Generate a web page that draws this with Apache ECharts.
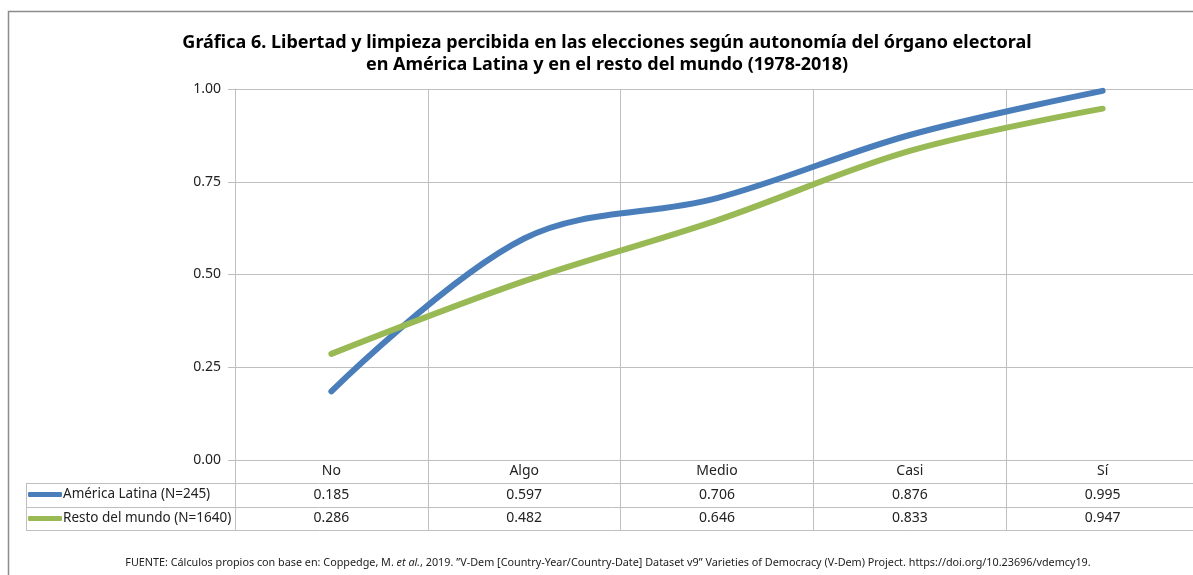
<!DOCTYPE html>
<html>
<head>
<meta charset="utf-8">
<script src="https://cdn.jsdelivr.net/npm/echarts@6/dist/echarts.min.js"></script>
<style>
  html, body { margin: 0; padding: 0; background: #fff; overflow: hidden; }
  #chart { width: 1199px; height: 575px; }
</style>
</head>
<body>
<div id="chart"></div>
<script>
// datos
var categorias = ['No', 'Algo', 'Medio', 'Casi', 'Sí'];
var americaLatina = [0.185, 0.597, 0.706, 0.876, 0.995];
var restoMundo = [0.286, 0.482, 0.646, 0.833, 0.947];
var nombreAL = 'América Latina (N=245)';
var nombreRM = 'Resto del mundo (N=1640)';

var fuente = 'Noto Sans';
var gris = '#bfbfbf';
var texto = '#222';

// el área de trazado sigue unos px más allá del borde derecho de la ventana
var chart = echarts.init(document.getElementById('chart'));

// ejes extra que hacen de filas de la tabla de datos
function filaTabla(valores, offset) {
  return {
    type: 'category',
    gridIndex: 0,
    position: 'bottom',
    offset: offset,
    data: valores.map(function (v) { return v.toFixed(3); }),
    axisLine: { show: false },
    axisTick: { show: false },
    splitLine: { show: false },
    axisLabel: { fontFamily: fuente, fontSize: 14, color: texto, margin: 4 }
  };
}

var option = {
  animation: false,
  backgroundColor: '#fff',
  title: {
    text: 'Gráfica 6. Libertad y limpieza percibida en las elecciones según autonomía del órgano electoral\nen América Latina y en el resto del mundo (1978-2018)',
    left: 602,
    top: 27,
    textAlign: 'center',
    textStyle: { fontFamily: fuente, fontSize: 18, fontWeight: 'bold', color: '#000', lineHeight: 22 }
  },
  legend: {
    orient: 'vertical',
    left: 28,
    top: 485,
    padding: 0,
    itemGap: 5,
    itemWidth: 34,
    itemHeight: 5,
    icon: 'roundRect',
    selectedMode: false,
    data: [nombreAL, nombreRM],
    textStyle: { fontFamily: fuente, fontSize: 13.5, color: texto, lineHeight: 19, padding: [0, 0, 0, -4] }
  },
  grid: { left: 235, right: 0, top: 89, bottom: 115 },
  xAxis: [
    {
      type: 'category',
      data: categorias,
      boundaryGap: true,
      axisLine: { show: true, lineStyle: { color: gris, width: 1 } },
      axisTick: { show: true, interval: 0, length: 70, lineStyle: { color: gris } },
      splitLine: { show: true, interval: 0, lineStyle: { color: gris } },
      axisLabel: { fontFamily: fuente, fontSize: 14, color: texto, margin: 4 }
    },
    filaTabla(americaLatina, 24),
    filaTabla(restoMundo, 47)
  ],
  yAxis: {
    type: 'value',
    min: 0,
    max: 1,
    interval: 0.25,
    axisLine: { show: true, lineStyle: { color: gris } },
    axisTick: { show: true, length: 7, lineStyle: { color: gris } },
    splitLine: { show: true, lineStyle: { color: gris } },
    axisLabel: {
      fontFamily: fuente, fontSize: 14, color: texto, margin: 14,
      formatter: function (v) { return v.toFixed(2); }
    }
  },
  series: [
    {
      name: nombreAL,
      type: 'line',
      data: americaLatina,
      smooth: 0.35,
      symbol: 'none',
      color: '#4a7ebb',
      lineStyle: { width: 6, cap: 'round', color: '#4a7ebb' }
    },
    {
      name: nombreRM,
      type: 'line',
      data: restoMundo,
      smooth: 0.35,
      symbol: 'none',
      color: '#98b954',
      lineStyle: { width: 6, cap: 'round', color: '#98b954' }
    }
  ],
  graphic: [
    // marco exterior
    { type: 'rect', shape: { x: 8.5, y: 11.5, width: 1200, height: 600 },
      style: { fill: 'none', stroke: '#8c8c8c', lineWidth: 1.5 }, silent: true },
    // líneas de la tabla
    { type: 'line', shape: { x1: 26, y1: 483.5, x2: 1199, y2: 483.5 }, style: { stroke: gris, lineWidth: 1 } },
    { type: 'line', shape: { x1: 26, y1: 507.5, x2: 1199, y2: 507.5 }, style: { stroke: gris, lineWidth: 1 } },
    { type: 'line', shape: { x1: 26, y1: 530.5, x2: 1199, y2: 530.5 }, style: { stroke: gris, lineWidth: 1 } },
    { type: 'line', shape: { x1: 26.5, y1: 483, x2: 26.5, y2: 531 }, style: { stroke: gris, lineWidth: 1 } },
    // fuente
    {
      type: 'text',
      x: 608,
      y: 557,
      style: {
        text: '{n|FUENTE: Cálculos propios con base en: Coppedge, M. }{i|et al.}{n|, 2019. ”V-Dem [Country-Year/Country-Date] Dataset v9” Varieties of Democracy (V-Dem) Project. https://doi.org/10.23696/vdemcy19.}',
        align: 'center',
        rich: {
          n: { fontFamily: fuente, fontSize: 10.8, fill: texto },
          i: { fontFamily: fuente, fontSize: 10.8, fontStyle: 'italic', fill: texto }
        }
      }
    }
  ]
};

chart.setOption(option);
</script>
</body>
</html>
